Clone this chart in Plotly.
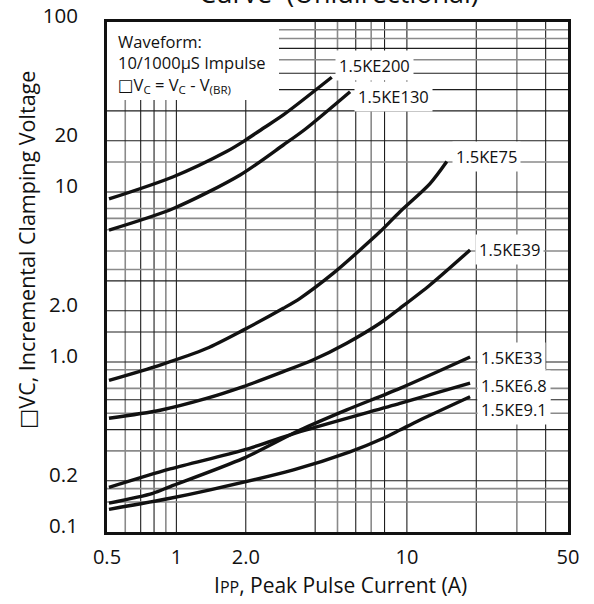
import math
import plotly.graph_objects as go

# ---------------- data ----------------
labels = ["1.5KE200", "1.5KE130", "1.5KE75", "1.5KE39", "1.5KE33", "1.5KE6.8", "1.5KE9.1"]

I_200 = [0.51, 0.97, 1.65, 1.95, 2.38, 2.91, 4.72]
V_200 = [9.1, 12.3, 17.3, 19.8, 23.7, 28.4, 47.3]

I_130 = [0.51, 0.97, 1.89, 2.91, 3.62, 5.67]
V_130 = [5.97, 8.0, 12.6, 18.9, 23.4, 38.9]

I_75 = [0.51, 0.85, 1.35, 1.95, 2.91, 3.44, 4.8, 6.26, 7.64, 9.33, 12.6, 14.9]
V_75 = [0.78, 0.96, 1.2, 1.54, 2.07, 2.37, 3.33, 4.56, 5.83, 7.65, 11.2, 15.1]

I_39 = [0.51, 0.85, 1.35, 1.95, 2.91, 3.93, 5.48, 7.64, 9.33, 12.6, 18.8]
V_39 = [0.467, 0.52, 0.61, 0.716, 0.877, 1.03, 1.29, 1.69, 2.07, 2.84, 4.56]

I_33 = [0.51, 0.79, 0.94, 1.95, 3.44, 5.48, 9.33, 18.8]
V_33 = [0.148, 0.169, 0.185, 0.271, 0.398, 0.523, 0.70, 1.07]

I_68 = [0.51, 0.94, 1.95, 3.44, 9.33, 18.8]
V_68 = [0.183, 0.235, 0.303, 0.389, 0.571, 0.75]

I_91 = [0.51, 0.94, 1.4, 3.22, 5.66, 7.9, 9.33, 11.4, 18.8]
V_91 = [0.136, 0.158, 0.177, 0.232, 0.296, 0.356, 0.398, 0.456, 0.625]

x_tickvals = [0.5, 1, 2, 10, 50]
x_ticktext = ["0.5", "1", "2.0", "10", "50"]
y_tickvals = [0.1, 0.2, 1, 2, 10, 20, 100]
y_ticktext = ["0.1", "0.2", "1.0", "2.0", "10", "20", "100"]

x_grid_dark = [0.7, 0.8, 1, 2, 4, 6, 8, 10, 20, 40]
x_grid_gray = [0.6, 0.9, 5, 7, 30]
y_grid_dark = [0.2, 0.4, 0.6, 1, 1.5, 2, 3, 10, 20, 30, 40, 50, 70]
y_grid_gray = [0.15, 0.18, 0.3, 0.5, 0.7, 0.9, 3.5, 4.5, 6, 7, 8, 15, 60, 80, 90]

title_text = "Curve  (Unidirectional)"
x_title = "I<span style='font-size:16px'>PP</span>, Peak Pulse Current (A)"
y_title = "\u25A1VC, Incremental Clamping Voltage"
note_text = ("Waveform:<br>10/1000\u03bcS Impulse<br>"
             "\u25A1V<sub>C</sub> = V<sub>C</sub> - V<sub>(BR)</sub>")

series = [
    (labels[0], I_200, V_200),
    (labels[1], I_130, V_130),
    (labels[2], I_75, V_75),
    (labels[3], I_39, V_39),
    (labels[4], I_33, V_33),
    (labels[5], I_68, V_68),
    (labels[6], I_91, V_91),
]

# ---------------- styling ----------------
W, H = 594, 604
L, R, T, B = 107, 26, 22, 72
PW, PH = W - L - R, H - T - B
FONT = "Open Sans, Noto Sans, DejaVu Sans, sans-serif"

label_shift = {  # (xshift, yshift) in px relative to each curve's end point
    "1.5KE200": (3, 12),
    "1.5KE130": (4, -5),
    "1.5KE75": (5, 5),
    "1.5KE39": (5, 0),
    "1.5KE33": (7, 0),
    "1.5KE6.8": (7, -2),
    "1.5KE9.1": (7, -13),
}

fig = go.Figure()
for name, xs, ys in series:
    fig.add_trace(go.Scatter(
        x=xs, y=ys, mode="lines", name=name,
        line=dict(color="#111111", width=3.4, shape="spline", smoothing=0.8),
        hoverinfo="skip", showlegend=False))

shapes = []
for v in x_grid_gray:
    shapes.append(dict(type="line", xref="x", yref="paper", x0=v, x1=v, y0=0, y1=1,
                       line=dict(color="#8a8a8a", width=1.6), layer="below"))
for v in x_grid_dark:
    shapes.append(dict(type="line", xref="x", yref="paper", x0=v, x1=v, y0=0, y1=1,
                       line=dict(color="#1e1e1e", width=1.1), layer="below"))
for v in y_grid_gray:
    shapes.append(dict(type="line", xref="paper", yref="y", x0=0, x1=1, y0=v, y1=v,
                       line=dict(color="#8a8a8a", width=1.6), layer="below"))
for v in y_grid_dark:
    shapes.append(dict(type="line", xref="paper", yref="y", x0=0, x1=1, y0=v, y1=v,
                       line=dict(color="#1e1e1e", width=1.1), layer="below"))


def px_x(p):
    return (p - L) / PW


def px_y(p):
    return (H - B - p) / PH


# white box behind the waveform note
shapes.append(dict(type="rect", xref="paper", yref="paper",
                   x0=0, x1=px_x(279), y0=px_y(100), y1=1,
                   fillcolor="white", line=dict(width=0), layer="below"))

annotations = []
for name, xs, ys in series:
    dx, dy = label_shift[name]
    annotations.append(dict(
        x=math.log10(xs[-1]), y=math.log10(ys[-1]), xref="x", yref="y",
        text=name, showarrow=False, xanchor="left", yanchor="middle",
        xshift=dx, yshift=dy, bgcolor="white", borderpad=3,
        font=dict(family=FONT, size=16.5, color="#111111")))

annotations.append(dict(
    x=px_x(116), y=1 - 6 / PH, xref="paper", yref="paper", text=note_text,
    showarrow=False, xanchor="left", yanchor="top", align="left",
    font=dict(family=FONT, size=16.5, color="#111111")))

annotations.append(dict(
    x=px_x(339), y=px_y(-7), xref="paper", yref="paper", text=title_text,
    showarrow=False, xanchor="center", yanchor="middle",
    font=dict(family=FONT, size=27, color="#111111")))

annotations.append(dict(
    x=px_x(340), y=px_y(585), xref="paper", yref="paper", text=x_title,
    showarrow=False, xanchor="center", yanchor="middle",
    font=dict(family=FONT, size=21, color="#111111")))

annotations.append(dict(
    x=px_x(27), y=px_y(250), xref="paper", yref="paper", text=y_title,
    showarrow=False, xanchor="center", yanchor="middle", textangle=-90,
    font=dict(family=FONT, size=21.5, color="#111111")))

fig.update_layout(
    width=W, height=H,
    margin=dict(l=L, r=R, t=T, b=B, autoexpand=False),
    paper_bgcolor="white", plot_bgcolor="white",
    shapes=shapes, annotations=annotations,
    font=dict(family=FONT, size=20, color="#111111"),
    xaxis=dict(type="log", range=[math.log10(0.5), math.log10(50)],
               tickvals=x_tickvals, ticktext=x_ticktext, showgrid=False,
               zeroline=False, showline=True, mirror=True, linecolor="#111111",
               linewidth=3, ticks="", ticklabelstandoff=5,
               tickfont=dict(family=FONT, size=20, color="#111111")),
    yaxis=dict(type="log", range=[-1, 2],
               tickvals=y_tickvals, ticktext=y_ticktext, showgrid=False,
               zeroline=False, showline=True, mirror=True, linecolor="#111111",
               linewidth=3, ticks="", ticklabelstandoff=22, ticklabelshift=-6,
               tickfont=dict(family=FONT, size=20.5, color="#111111")),
)

fig.write_html("out.html",
               config={"displayModeBar": False, "staticPlot": True},
               post_script="document.body.style.margin='0';"
                           "document.body.style.overflow='hidden';")
